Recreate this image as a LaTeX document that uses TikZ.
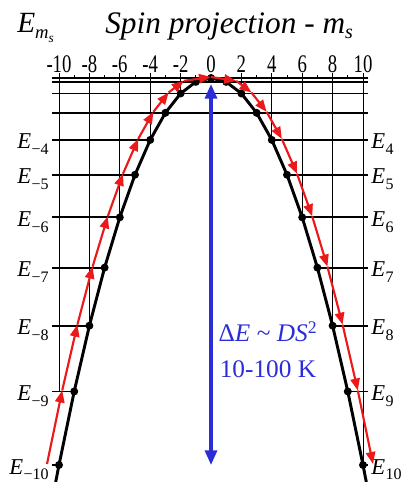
\documentclass[tikz,border=0pt]{standalone}
\usepackage{fontspec}
\setmainfont{Liberation Serif}
\newfontfamily\narrowserif{Liberation Serif}[FakeStretch=0.74]
\usetikzlibrary{arrows.meta}
\definecolor{flipred}{RGB}{235,25,25}
\definecolor{gapblue}{RGB}{45,45,215}
\providecommand{\levlabel}[1]{%
  \textit{E}\kern0.3pt\raisebox{-0.55ex}{\fontsize{12}{12}\selectfont#1}%
}

\begin{document}
\begin{tikzpicture}[
  x=0.75pt, y=-0.75pt,
  gridline/.style={draw=black, line width=0.7pt},
  levline/.style={draw=black, line width=1.4pt},
  parab/.style={draw=black, line width=2.2pt, line join=round},
  lvdot/.style={circle, fill=black, inner sep=0pt, minimum size=6pt},
  flip/.style={draw=flipred, line width=1.6pt,
               -{Triangle[length=9pt, width=7pt]}},
  gap/.style={draw=gapblue, line width=2.4pt,
              {Triangle[length=11pt, width=9pt]}-{Triangle[length=11pt, width=9pt]}},
  levtag/.style={font=\fontsize{17}{17}\selectfont, inner sep=0pt},
  ticktag/.style={font=\narrowserif\fontsize{19}{19}\selectfont,
                  inner sep=0pt, anchor=base}
]
\useasboundingbox (0,0) rectangle (401,482);

\foreach \m in {-10,...,10} {
  \pgfmathsetmacro{\xx}{211+15.2*\m}
  \pgfmathsetmacro{\yy}{78+3.87*\m*\m}
  \pgfmathsetmacro{\off}{(\m<0)*(-12)+(\m>0)*10}
  \coordinate (b\m) at (\xx,\yy);
  \coordinate (r\m) at (\xx+\off,\yy-1);
  \coordinate (top\m) at (\xx,73);
  \coordinate (lft\m) at (52,\yy);
  \coordinate (rgt\m) at (368,\yy);
}
\coordinate (bendL) at (55.7,482);
\coordinate (bendR) at (366.3,482);

\foreach \m in {-8,-6,-4,-2,2,4,6,8,10}
  \draw[gridline] (top\m) -- (b\m);
\draw[gridline] (top-10) -- (b-10 |- lft-9);
\foreach \m in {-9,-7,...,9}
  \draw[gridline] (b\m |- lft0) -- ++(0,-3);

\foreach \m in {0,...,3}
  \draw[levline] (lft\m) -- (rgt\m);
\foreach \m in {4,...,10} {
  \draw[levline] (lft-\m) -- (b-\m);
  \draw[levline] (b\m) -- (rgt\m);
}

\draw[parab] (bendL) \foreach \m in {-10,...,10} { -- (b\m) } -- (bendR);
\foreach \m in {-10,...,10}
  \node[lvdot] (d\m) at (b\m) {};

\foreach \m [evaluate=\m as \n using int(\m+1)] in {-10,...,9}
  \draw[flip] (r\m) -- (r\n);

\coordinate (gaptop) at (211,84);
\coordinate (gapbot) at (211,465);
\draw[gap] (gaptop) -- (gapbot);

\foreach \m in {4,...,10} {
  \pgfmathsetmacro{\yy}{87+3.87*\m*\m}
  \node[levtag, anchor=base east] (tagL\m) at (49,\yy) {\levlabel{−\m}};
  \node[levtag, anchor=base west] (tagR\m) at (371,\yy) {\levlabel{\m}};
}

\foreach \m in {-10,-8,...,10}
  \node[ticktag] (tick\m) at (211+15.2*\m,72) {\m};

\node[anchor=base west, inner sep=0pt,
      font=\itshape\fontsize{23.5}{24}\selectfont] (title) at (105,33)
  {Spin projection - m\raisebox{-0.35ex}{\fontsize{15}{15}\selectfont s}};
\node[anchor=base west, inner sep=0pt, font=\fontsize{22}{22}\selectfont] (eaxis) at (17,32)
  {\textit{E}\raisebox{-0.5ex}{\fontsize{14}{14}\selectfont\textit{m}%
   \raisebox{-0.4ex}{\fontsize{10}{10}\selectfont\textit{s}}}};

\node[text=gapblue, font=\fontsize{19}{27}\selectfont, align=center, inner sep=0pt]
  (gaptext) at (268,350)
  {Δ\textit{E} \textasciitilde\ \textit{DS}\textsuperscript{2}\\10-100 K};
\end{tikzpicture}
\end{document}
